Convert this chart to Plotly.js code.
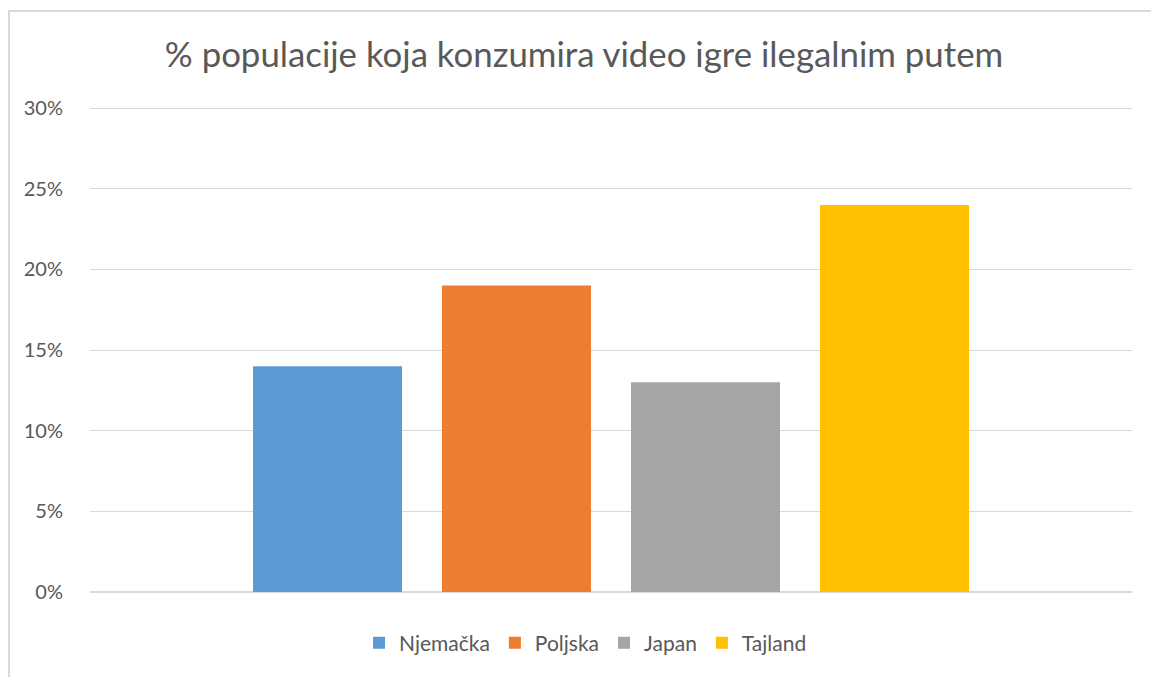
<!DOCTYPE html>
<html>
<head>
<meta charset="utf-8">
<script src="https://cdn.plot.ly/plotly-3.0.1.min.js"></script>
<style>
  html, body { margin: 0; padding: 0; background: #fff; overflow: hidden; }
  #chart { width: 1151px; height: 677px; }
  #frame { position: absolute; left: 8px; top: 10px; width: 1200px; height: 700px;
           border-left: 2px solid #d9d9d9; border-top: 2px solid #d9d9d9; pointer-events: none; }
</style>
</head>
<body>
<div id="chart"></div>
<div id="frame"></div>
<script>
const categories = [""];
const seriesNames = ["Njemačka", "Poljska", "Japan", "Tajland"];
const seriesValues = [[0.14], [0.19], [0.13], [0.24]];
const seriesColors = ["#5B9BD5", "#ED7D31", "#A5A5A5", "#FFC000"];
const titleText = "% populacije koja konzumira video igre ilegalnim putem";

const traces = seriesNames.map((name, i) => ({
  type: "bar",
  name: name,
  x: categories,
  y: seriesValues[i],
  marker: { color: seriesColors[i] },
  hoverinfo: "name+y"
}));

const font = "Lato, 'Open Sans', sans-serif";
const layout = {
  width: 1151, height: 677,
  paper_bgcolor: "#ffffff", plot_bgcolor: "#ffffff",
  margin: { l: 90, r: 19, t: 105, b: 85 },
  barmode: "group",
  bargap: 0.2745,
  bargroupgap: 0.2116,
  title: {
    text: titleText,
    font: { family: font, size: 34.8, color: "#595959" },
    x: 584 / 1151, xanchor: "center", xref: "container",
    y: 1 - 55 / 677, yanchor: "middle", yref: "container"
  },
  xaxis: {
    showticklabels: false, showgrid: false, zeroline: false,
    showline: false, ticks: "", fixedrange: true
  },
  yaxis: {
    range: [0, 0.302], tickvals: [0, 0.05, 0.10, 0.15, 0.20, 0.25, 0.30], tickformat: ".0%",
    showgrid: true, gridcolor: "#d9d9d9", gridwidth: 1,
    zeroline: true, zerolinecolor: "#d9d9d9", zerolinewidth: 1.5,
    showline: false,
    ticks: "outside", ticklen: 22, tickcolor: "rgba(0,0,0,0)",
    tickfont: { family: font, size: 20, color: "#595959" },
    fixedrange: true
  },
  showlegend: true,
  legend: {
    orientation: "h",
    x: 0.5087, xanchor: "center", xref: "container",
    y: 1 - 643 / 677, yanchor: "middle", yref: "container",
    font: { family: font, size: 21, color: "#595959" },
    itemwidth: 30,
    traceorder: "normal"
  }
};

Plotly.newPlot("chart", traces, layout, { displayModeBar: false });
</script>
</body>
</html>
